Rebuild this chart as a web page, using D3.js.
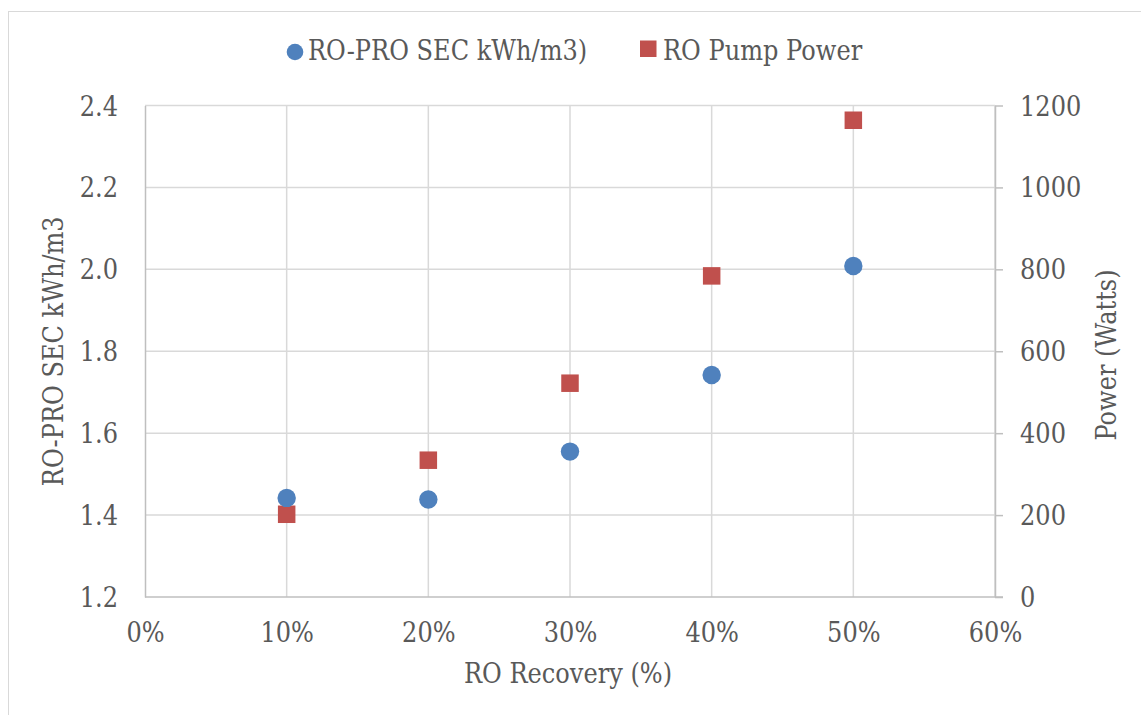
<!DOCTYPE html>
<html>
<head>
<meta charset="utf-8">
<script src="https://cdn.jsdelivr.net/npm/d3@7"></script>
<style>
  html, body { margin: 0; padding: 0; background: #fff; }
</style>
</head>
<body>
<svg id="chart" width="1141" height="715"></svg>
<script>
// RO recovery (fraction) at each measured point
const recovery = [0.10, 0.20, 0.30, 0.40, 0.50];
// Specific energy consumption of the RO-PRO system (kWh/m3)
const secValues = [1.442, 1.438, 1.555, 1.742, 2.008];
// RO high-pressure pump power (W)
const pumpPower = [202, 334, 522, 784, 1164];

const xTicks = [0, 0.1, 0.2, 0.3, 0.4, 0.5, 0.6];
const leftTicks = [1.2, 1.4, 1.6, 1.8, 2.0, 2.2, 2.4];
const rightTicks = [0, 200, 400, 600, 800, 1000, 1200];

const seriesNames = ["RO-PRO SEC kWh/m3)", "RO Pump Power"];
const colors = ["#4F81BD", "#C0504D"];

const svg = d3.select("#chart");
const W = 1141, H = 715;
const plot = { left: 145, right: 995, top: 105.5, bottom: 597 };
const textColor = "#595959";
const fontSize = 28;
const fontFamily = "DejaVu Serif";
const squeeze = 0.86;   // condensed serif look

// style a text node; x/y are given in screen units and compensated for the squeeze
function styleText(sel, px, py, extra = "") {
  return sel
    .attr("font-family", fontFamily)
    .attr("font-size", fontSize)
    .attr("fill", textColor)
    .attr("x", px / squeeze)
    .attr("y", py)
    .attr("transform", `${extra} scale(${squeeze},1)`);
}

// outer chart border
svg.append("rect")
  .attr("x", 8.5).attr("y", 11.5)
  .attr("width", W + 10).attr("height", H + 10)
  .attr("fill", "none").attr("stroke", "#D9D9D9").attr("stroke-width", 1);

const x = d3.scaleLinear().domain([0, 0.6]).range([plot.left, plot.right]);
const yL = d3.scaleLinear().domain([1.2, 2.4]).range([plot.bottom, plot.top]);
const yR = d3.scaleLinear().domain([0, 1200]).range([plot.bottom, plot.top]);

// gridlines
const grid = svg.append("g").attr("stroke", "#D9D9D9").attr("stroke-width", 1.5);
leftTicks.slice(1).forEach(t => {
  grid.append("line").attr("x1", plot.left).attr("x2", plot.right)
    .attr("y1", yL(t)).attr("y2", yL(t));
});
xTicks.slice(1).forEach(t => {
  grid.append("line").attr("x1", x(t)).attr("x2", x(t))
    .attr("y1", plot.top).attr("y2", plot.bottom);
});

// axes
const xAxis = svg.append("g")
  .attr("transform", `translate(0,${plot.bottom})`)
  .call(d3.axisBottom(x).tickValues(xTicks).tickFormat(d3.format(".0%")).tickSize(0));
const leftAxis = svg.append("g")
  .attr("transform", `translate(${plot.left},0)`)
  .call(d3.axisLeft(yL).tickValues(leftTicks).tickFormat(d3.format(".1f")).tickSize(0));
const rightAxis = svg.append("g")
  .attr("transform", `translate(${plot.right},0)`)
  .call(d3.axisRight(yR).tickValues(rightTicks).tickFormat(d3.format("d")).tickSizeInner(8).tickSizeOuter(0));

[xAxis, leftAxis, rightAxis].forEach(g => {
  g.attr("font-family", null).attr("font-size", null);
  g.select(".domain").attr("stroke", "#BFBFBF").attr("stroke-width", 1.5);
  g.selectAll(".tick line").attr("stroke", "#BFBFBF").attr("stroke-width", 1.5);
});
xAxis.select(".domain").attr("d", `M${plot.left},0H${plot.right + 8}`);

xAxis.selectAll(".tick text").each(function () {
  styleText(d3.select(this), 0, 45).attr("dy", null);
});
leftAxis.selectAll(".tick text").each(function () {
  styleText(d3.select(this), -27, 0).attr("dy", "0.34em");
});
rightAxis.selectAll(".tick text").each(function () {
  styleText(d3.select(this), 25, 0).attr("dy", "0.34em");
});

// axis titles
styleText(svg.append("text"), (plot.left + plot.right) / 2 - 2, 683)
  .attr("text-anchor", "middle")
  .text("RO Recovery (%)");
styleText(svg.append("text"), 0, 0, `translate(63,${(plot.top + plot.bottom) / 2}) rotate(-90)`)
  .attr("text-anchor", "middle")
  .text("RO-PRO SEC kWh/m3");
styleText(svg.append("text"), 0, 0, `translate(1116,355) rotate(-90)`)
  .attr("text-anchor", "middle")
  .text("Power (Watts)");

// series markers
const secPts = recovery.map((r, i) => ({ r, v: secValues[i] }));
const powPts = recovery.map((r, i) => ({ r, v: pumpPower[i] }));
const sq = 17.5;

svg.append("g").selectAll("rect")
  .data(powPts).join("rect")
  .attr("x", d => x(d.r) - sq / 2).attr("y", d => yR(d.v) - sq / 2)
  .attr("width", sq).attr("height", sq)
  .attr("fill", colors[1]);

svg.append("g").selectAll("circle")
  .data(secPts).join("circle")
  .attr("cx", d => x(d.r)).attr("cy", d => yL(d.v))
  .attr("r", 9.2)
  .attr("fill", colors[0]);

// legend
const legend = svg.append("g");
legend.append("circle").attr("cx", 295).attr("cy", 52).attr("r", 8.3).attr("fill", colors[0]);
styleText(legend.append("text"), 308, 60).text(seriesNames[0]);
legend.append("rect").attr("x", 640).attr("y", 40.5).attr("width", 16.5).attr("height", 16.5).attr("fill", colors[1]);
styleText(legend.append("text"), 663, 60).text(seriesNames[1]);
</script>
</body>
</html>
